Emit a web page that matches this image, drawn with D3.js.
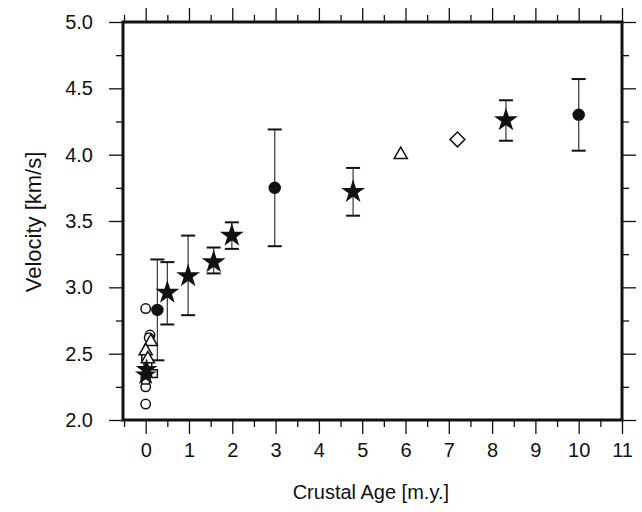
<!DOCTYPE html>
<html>
<head>
<meta charset="utf-8">
<script src="https://cdn.jsdelivr.net/npm/d3@7"></script>
<style>
  body { margin: 0; background: #fff; }
  svg text { font-family: 'Liberation Sans', Arial, sans-serif; fill: #111; }
</style>
</head>
<body>
<div id="chart"></div>
<script>
// data: [age, velocity, low, high]
const starPts = [[0.5, 2.96, 2.72, 3.19], [0.98, 3.085, 2.79, 3.39], [1.57, 3.19, 3.105, 3.30],
  [1.99, 3.39, 3.29, 3.49], [4.79, 3.72, 3.54, 3.90], [8.32, 4.26, 4.105, 4.41]]
const dotPts = [[0.27, 2.83, 2.45, 3.21], [2.98, 3.75, 3.31, 4.19], [10.0, 4.30, 4.03, 4.57]]
const clusterStars = [[0.0, 2.34], [0.02, 2.38]]
const openCircles = [[0.0, 2.84], [0.0, 2.25], [0.0, 2.12], [0.1, 2.64], [0.08, 2.62]]
const openTriangles = [[5.89, 4.0], [0.12, 2.59], [0.0, 2.52], [0.05, 2.46]]
const openSquares = [[0.0, 2.48], [0.05, 2.42], [0.02, 2.37], [0.18, 2.35], [0.0, 2.30]]
const openDiamonds = [[7.2, 4.115]]
const xTicks = d3.range(0, 12)
const yTicks = [2.0, 2.5, 3.0, 3.5, 4.0, 4.5, 5.0]

let w = 642, h = 512
let margin = { top: 22, left: 123, right: 20, bottom: 92 }
let iw = w - margin.left - margin.right,
  ih = h - margin.top - margin.bottom

let svg = d3.select('#chart').append('svg').attr('width', w).attr('height', h)
let g = svg.append('g').attr('transform', `translate(${margin.left}, ${margin.top})`)

let x = d3.scaleLinear().domain([-0.524, 11]).range([0, iw])
let y = d3.scaleLinear().domain([2, 5]).range([ih, 0])

const xMinor = d3.range(-0.5, 11, 1)
const yMinor = d3.range(2.25, 5, 0.5)

function ticks (axis) {
  return sel => {
    sel.call(axis).call(s => s.select('.domain').remove())
    sel.selectAll('.tick line').attr('stroke', '#111').attr('stroke-width', 1.3)
  }
}

// bottom axis with labels
g.append('g').attr('transform', `translate(0, ${ih})`)
  .call(ticks(d3.axisBottom(x).tickValues(xTicks).tickSize(14).tickPadding(9).tickFormat(d3.format('d'))))
  .selectAll('text').attr('font-size', '20px')
g.append('g').attr('transform', `translate(0, ${ih})`)
  .call(ticks(d3.axisBottom(x).tickValues(xMinor).tickSize(7).tickFormat('')))
// top axis
g.append('g').call(ticks(d3.axisTop(x).tickValues(xTicks).tickSize(14).tickFormat('')))
g.append('g').call(ticks(d3.axisTop(x).tickValues(xMinor).tickSize(7).tickFormat('')))
// left axis with labels
g.append('g')
  .call(ticks(d3.axisLeft(y).tickValues(yTicks).tickSize(14).tickPadding(16).tickFormat(d3.format('.1f'))))
  .selectAll('text').attr('font-size', '20px')
g.append('g').call(ticks(d3.axisLeft(y).tickValues(yMinor).tickSize(7).tickFormat('')))
// right axis
g.append('g').attr('transform', `translate(${iw}, 0)`)
  .call(ticks(d3.axisRight(y).tickValues(yTicks).tickSize(14).tickFormat('')))
g.append('g').attr('transform', `translate(${iw}, 0)`)
  .call(ticks(d3.axisRight(y).tickValues(yMinor).tickSize(7).tickFormat('')))

// frame
g.append('rect').attr('width', iw).attr('height', ih)
  .attr('fill', 'none').attr('stroke', '#111').attr('stroke-width', 3)

// error bars
let errs = g.append('g').attr('stroke', '#444').attr('stroke-width', 1.3)
starPts.concat(dotPts).forEach(d => {
  errs.append('line').attr('x1', x(d[0])).attr('x2', x(d[0])).attr('y1', y(d[2])).attr('y2', y(d[3]))
  errs.append('line').attr('x1', x(d[0]) - 7).attr('x2', x(d[0]) + 7).attr('y1', y(d[2])).attr('y2', y(d[2])).attr('stroke', '#111').attr('stroke-width', 2)
  errs.append('line').attr('x1', x(d[0]) - 7).attr('x2', x(d[0]) + 7).attr('y1', y(d[3])).attr('y2', y(d[3])).attr('stroke', '#111').attr('stroke-width', 2)
})

function drawSymbols (data, type, size, filled, rot) {
  g.append('g').selectAll('path').data(data).enter().append('path')
    .attr('d', d3.symbol().type(type).size(size))
    .attr('transform', d => `translate(${x(d[0])}, ${y(d[1])}) rotate(${rot || 0})`)
    .attr('fill', filled ? '#111' : '#fff')
    .attr('stroke', '#111').attr('stroke-width', 1.5)
}

drawSymbols(openCircles, d3.symbolCircle, 70, false)
drawSymbols(openSquares, d3.symbolSquare, 60, false)
drawSymbols(openTriangles, d3.symbolTriangle, 75, false)
drawSymbols(openDiamonds, d3.symbolSquare, 110, false, 45)
drawSymbols(clusterStars, d3.symbolStar, 90, true)
drawSymbols(dotPts, d3.symbolCircle, 95, true)
drawSymbols(starPts, d3.symbolStar, 115, true)

// titles
svg.append('text').text('Crustal Age [m.y.]')
  .attr('x', margin.left + x(5.2)).attr('y', 499)
  .attr('text-anchor', 'middle').attr('font-size', '20px')
svg.append('text').text('Velocity [km/s]')
  .attr('transform', `translate(41, ${margin.top + 200}) rotate(-90)`)
  .attr('text-anchor', 'middle').attr('font-size', '22px')
</script>
</body>
</html>
